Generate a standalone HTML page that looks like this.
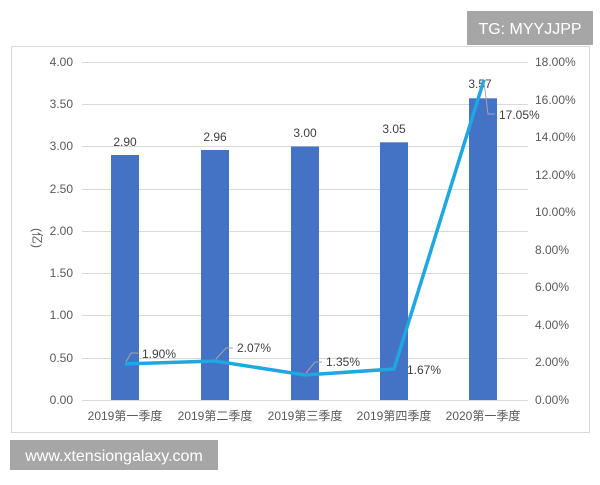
<!DOCTYPE html>
<html><head><meta charset="utf-8"><style>
body{margin:0;background:#fff;width:600px;height:480px;overflow:hidden;font-family:"Liberation Sans","Noto Sans CJK SC",sans-serif}
</style></head><body>
<svg width="600" height="480" xmlns="http://www.w3.org/2000/svg" font-family="Liberation Sans, Noto Sans CJK SC, sans-serif">
<rect x="11.5" y="46.5" width="578" height="386" fill="#fff" stroke="#d9d9d9"/>
<g stroke="#d9d9d9" stroke-width="1">
<line x1="82" x2="528" y1="62.5" y2="62.5"/><line x1="82" x2="528" y1="104.5" y2="104.5"/>
<line x1="82" x2="528" y1="146.5" y2="146.5"/><line x1="82" x2="528" y1="189.5" y2="189.5"/>
<line x1="82" x2="528" y1="231.5" y2="231.5"/><line x1="82" x2="528" y1="273.5" y2="273.5"/>
<line x1="82" x2="528" y1="315.5" y2="315.5"/><line x1="82" x2="528" y1="358.5" y2="358.5"/>
<line x1="82" x2="528" y1="400.5" y2="400.5"/>
</g>
<g font-size="12" fill="#595959" text-anchor="end">
<text x="73" y="66">4.00</text><text x="73" y="108">3.50</text><text x="73" y="150">3.00</text>
<text x="73" y="193">2.50</text><text x="73" y="235">2.00</text><text x="73" y="277">1.50</text>
<text x="73" y="319">1.00</text><text x="73" y="362">0.50</text><text x="73" y="404">0.00</text>
</g>
<g font-size="12" fill="#595959" text-anchor="start">
<text x="535" y="66">18.00%</text><text x="535" y="104">16.00%</text><text x="535" y="141">14.00%</text>
<text x="535" y="179">12.00%</text><text x="535" y="216">10.00%</text><text x="535" y="254">8.00%</text>
<text x="535" y="291">6.00%</text><text x="535" y="329">4.00%</text><text x="535" y="366">2.00%</text>
<text x="535" y="404">0.00%</text>
</g>
<text x="33" y="238" font-size="12" fill="#595959" transform="rotate(90 33 238)" text-anchor="middle">(亿)</text>
<g fill="#4472c4">
<rect x="111" y="155" width="28" height="245"/><rect x="201" y="150" width="28" height="250"/>
<rect x="291" y="146.5" width="28" height="253.5"/><rect x="380" y="142.3" width="28" height="257.7"/>
<rect x="469" y="98.3" width="28" height="301.7"/>
</g>
<g font-size="12" fill="#404040" text-anchor="middle">
<text x="125" y="146">2.90</text><text x="215" y="141">2.96</text><text x="305" y="137">3.00</text>
<text x="394" y="133">3.05</text><text x="480" y="88">3.57</text>
</g>
<polyline points="125,364 215,361 305,375 394,369 484,80" fill="none" stroke="#1ea7e0" stroke-width="3.5" stroke-linejoin="round"/>
<g stroke="#a6a6a6" fill="none" stroke-width="1">
<polyline points="126,362 131,353 138,353"/><polyline points="216,359 226,348 233,348"/>
<polyline points="306,373 315,362 322,362"/><polyline points="484,82 488,114 495,114"/>
</g>
<g font-size="12" fill="#404040">
<text x="142" y="358">1.90%</text><text x="237" y="352">2.07%</text><text x="326" y="366">1.35%</text>
<text x="407" y="374">1.67%</text><text x="499" y="119">17.05%</text>
</g>
<g font-size="12" fill="#595959" text-anchor="middle">
<text x="125" y="420">2019第一季度</text><text x="215" y="420">2019第二季度</text><text x="305" y="420">2019第三季度</text>
<text x="394" y="420">2019第四季度</text><text x="483" y="420">2020第一季度</text>
</g>
<rect x="467" y="11" width="126" height="34" fill="#a6a6a6"/>
<text x="530" y="34" font-size="16" fill="#fff" text-anchor="middle">TG: MYYJJPP</text>
<rect x="10" y="440" width="208" height="30" fill="#a6a6a6"/>
<text x="114" y="461" font-size="16" fill="#fff" text-anchor="middle">www.xtensiongalaxy.com</text>
</svg>
</body></html>
